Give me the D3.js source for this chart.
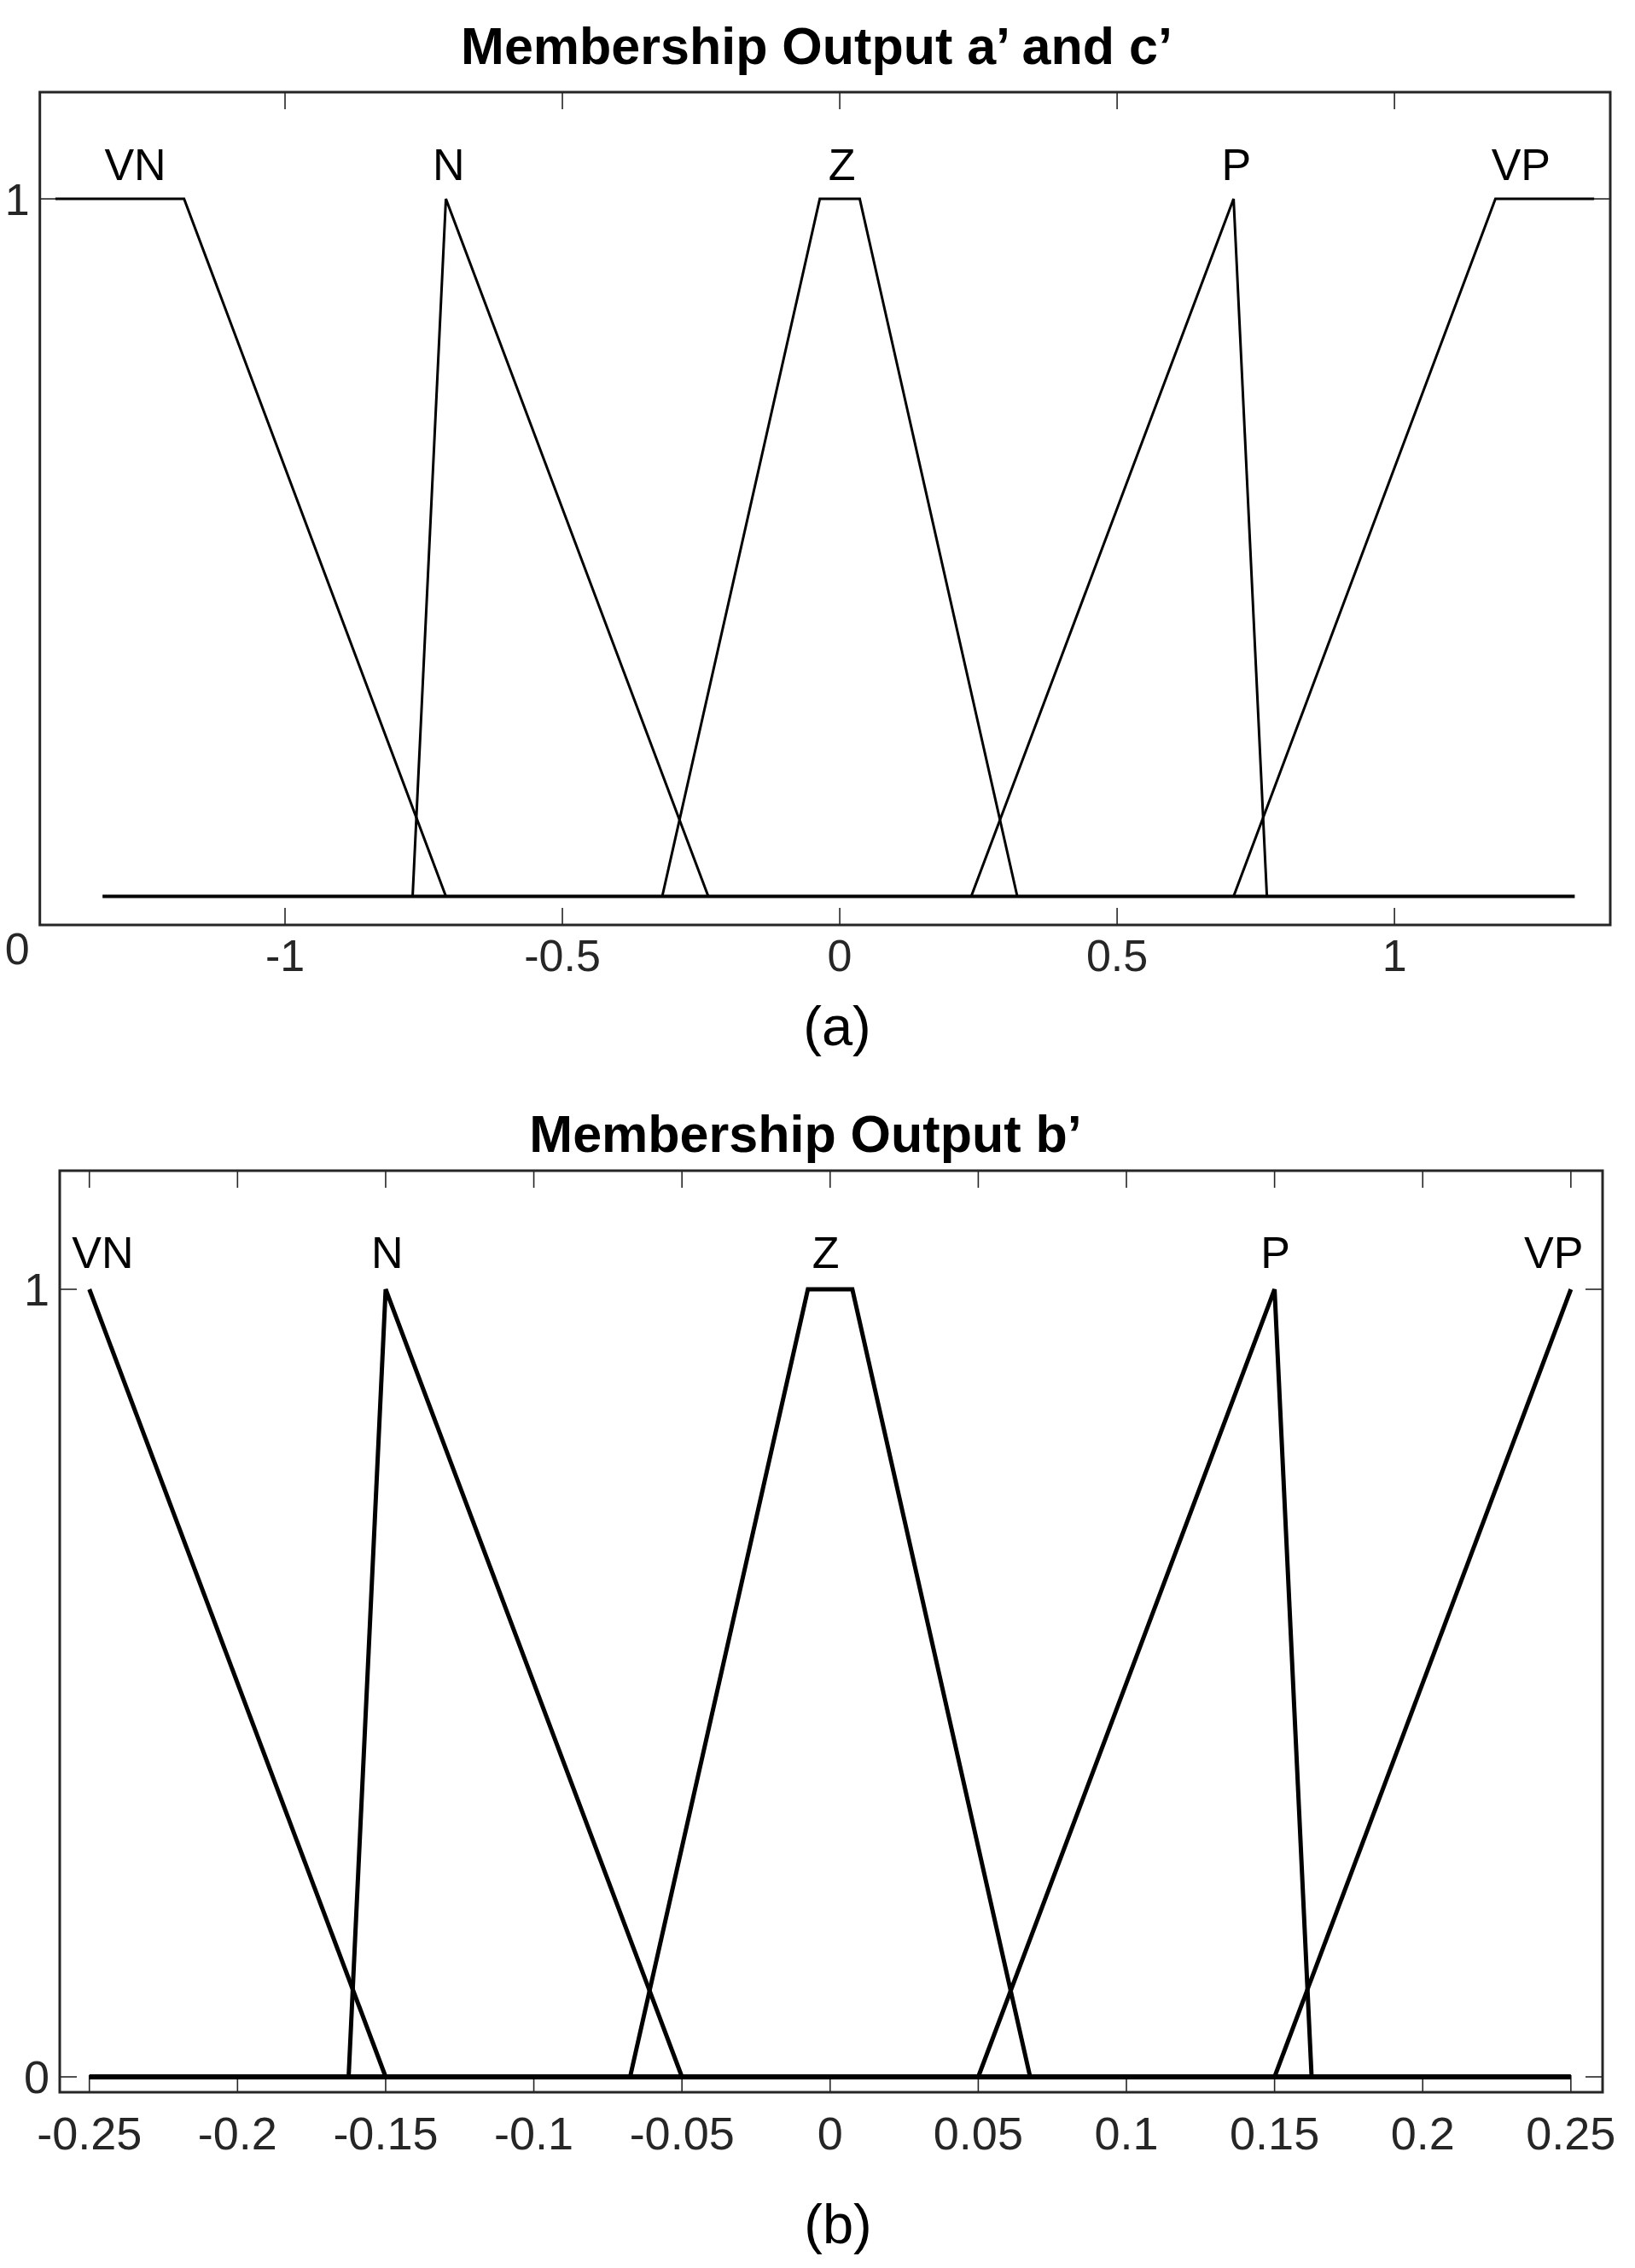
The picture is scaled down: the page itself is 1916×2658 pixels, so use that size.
<!DOCTYPE html>
<html>
<head>
<meta charset="utf-8">
<script src="https://cdn.jsdelivr.net/npm/d3@7"></script>
<style>
  body { margin: 0; background: #fff; }
  text { font-family: "Liberation Sans", Arial, sans-serif; }
</style>
</head>
<body>
<div id="chart"></div>
<script>
// ---- data: panel (a) ----
const namesA = ["VN", "N", "Z", "P", "VP"];
const vnA = [[-1.414, 1], [-1.182, 1], [-0.71, 0]];
const nA = [[-0.77, 0], [-0.71, 1], [-0.237, 0]];
const zA = [[-0.32, 0], [-0.036, 1], [0.036, 1], [0.32, 0]];
const pA = [[0.237, 0], [0.71, 1], [0.77, 0]];
const vpA = [[0.71, 0], [1.182, 1], [1.36, 1]];
const baseA = [[-1.329, 0], [1.325, 0]];
const labelXA = [-1.27, -0.705, 0.004, 0.715, 1.228];
const xTicksA = [-1, -0.5, 0, 0.5, 1];
const xTickLabelsA = ["-1", "-0.5", "0", "0.5", "1"];

// ---- data: panel (b) ----
const namesB = ["VN", "N", "Z", "P", "VP"];
const vnB = [[-0.25, 1], [-0.15, 0]];
const nB = [[-0.1625, 0], [-0.15, 1], [-0.05, 0]];
const zB = [[-0.0675, 0], [-0.0075, 1], [0.0075, 1], [0.0675, 0]];
const pB = [[0.05, 0], [0.15, 1], [0.1625, 0]];
const vpB = [[0.15, 0], [0.25, 1]];
const baseB = [[-0.25, 0], [0.25, 0]];
const labelXB = [-0.2455, -0.1495, -0.0015, 0.1503, 0.2442];
const xTicksB = [-0.25, -0.2, -0.15, -0.1, -0.05, 0, 0.05, 0.1, 0.15, 0.2, 0.25];
const xTickLabelsB = ["-0.25", "-0.2", "-0.15", "-0.1", "-0.05", "0", "0.05", "0.1", "0.15", "0.2", "0.25"];

const W = 1916, H = 2658;
const svg = d3.select("#chart").append("svg")
    .attr("width", W)
    .attr("height", H)
    .style("display", "block");
svg.append("rect").attr("width", W).attr("height", H).attr("fill", "#fff");

const axisColor = "#262626";

function drawPanel(opt) {
    const g = svg.append("g");
    const x = d3.scaleLinear().domain(opt.xDomain).range([opt.left, opt.right]);
    const y = d3.scaleLinear().domain(opt.yDomain).range([opt.bottom, opt.top]);
    const line = d3.line().x(d => x(d[0])).y(d => y(d[1]));

    // title
    g.append("text")
        .attr("x", opt.titleX)
        .attr("y", opt.titleY)
        .attr("text-anchor", "middle")
        .attr("font-size", 61)
        .attr("font-weight", "bold")
        .attr("fill", "#000")
        .text(opt.title);

    // ticks on all four sides (inward)
    const tl = 20;
    opt.xTicks.forEach(t => {
        g.append("line").attr("x1", x(t)).attr("x2", x(t))
            .attr("y1", opt.top).attr("y2", opt.top + tl)
            .attr("stroke", axisColor).attr("stroke-width", 1.6);
        g.append("line").attr("x1", x(t)).attr("x2", x(t))
            .attr("y1", opt.bottom).attr("y2", opt.bottom - tl)
            .attr("stroke", axisColor).attr("stroke-width", 1.6);
    });
    opt.yTicks.forEach(t => {
        g.append("line").attr("x1", opt.left).attr("x2", opt.left + tl)
            .attr("y1", y(t)).attr("y2", y(t))
            .attr("stroke", axisColor).attr("stroke-width", 1.6);
        g.append("line").attr("x1", opt.right).attr("x2", opt.right - tl)
            .attr("y1", y(t)).attr("y2", y(t))
            .attr("stroke", axisColor).attr("stroke-width", 1.6);
    });

    // x tick labels
    g.selectAll(".xl")
        .data(opt.xTicks)
        .enter()
        .append("text")
        .attr("x", d => x(d))
        .attr("y", opt.xLabelY)
        .attr("text-anchor", "middle")
        .attr("font-size", opt.tickSize)
        .attr("fill", axisColor)
        .text((d, i) => opt.xTickLabels[i]);

    // y tick labels
    opt.yLabels.forEach(l => {
        g.append("text")
            .attr("x", opt.left - 12)
            .attr("y", l.y == null ? y(l.v) : l.y)
            .attr("dy", l.y == null ? "0.36em" : null)
            .attr("text-anchor", "end")
            .attr("font-size", opt.tickSize)
            .attr("fill", axisColor)
            .text(l.text);
    });

    // membership functions
    g.append("path").attr("d", line(opt.base))
        .attr("fill", "none").attr("stroke", "#000")
        .attr("stroke-width", opt.baseWidth);
    opt.mfs.forEach(mf => {
        g.append("path").attr("d", line(mf))
            .attr("fill", "none").attr("stroke", "#000")
            .attr("stroke-width", opt.lineWidth)
            .attr("stroke-linejoin", "miter");
    });

    // MF names
    g.selectAll(".mfl")
        .data(opt.names)
        .enter()
        .append("text")
        .attr("x", (d, i) => x(opt.labelX[i]))
        .attr("y", y(1.027))
        .attr("text-anchor", "middle")
        .attr("font-size", 52)
        .attr("fill", "#000")
        .text(d => d);

    // box
    g.append("rect")
        .attr("x", opt.left).attr("y", opt.top)
        .attr("width", opt.right - opt.left)
        .attr("height", opt.bottom - opt.top)
        .attr("fill", "none").attr("stroke", axisColor).attr("stroke-width", 3);

    // caption
    g.append("text")
        .attr("x", opt.captionX)
        .attr("y", opt.captionY)
        .attr("text-anchor", "middle")
        .attr("font-size", 65)
        .attr("fill", "#000")
        .text(opt.caption);
}

drawPanel({
    title: "Membership Output a\u2019 and c\u2019",
    titleX: 957, titleY: 75,
    left: 46.7, right: 1887, top: 108, bottom: 1084,
    xDomain: [-1.442, 1.389], yDomain: [-0.041, 1.153],
    xTicks: xTicksA, xTickLabels: xTickLabelsA,
    yTicks: [1],
    yLabels: [{ v: 1, text: "1" }, { y: 1130, text: "0" }],
    xLabelY: 1138, tickSize: 52,
    mfs: [vnA, nA, zA, pA, vpA], base: baseA,
    lineWidth: 3, baseWidth: 4,
    names: namesA, labelX: labelXA,
    caption: "(a)", captionX: 981, captionY: 1225
});

drawPanel({
    title: "Membership Output b\u2019",
    titleX: 944, titleY: 1350,
    left: 70, right: 1878, top: 1372, bottom: 2452,
    xDomain: [-0.26, 0.2607], yDomain: [-0.0195, 1.1506],
    xTicks: xTicksB, xTickLabels: xTickLabelsB,
    yTicks: [0, 1],
    yLabels: [{ v: 1, text: "1" }, { v: 0, text: "0" }],
    xLabelY: 2519, tickSize: 54,
    mfs: [vnB, nB, zB, pB, vpB], base: baseB,
    lineWidth: 5, baseWidth: 6,
    names: namesB, labelX: labelXB,
    caption: "(b)", captionX: 982, captionY: 2629
});
</script>
</body>
</html>
